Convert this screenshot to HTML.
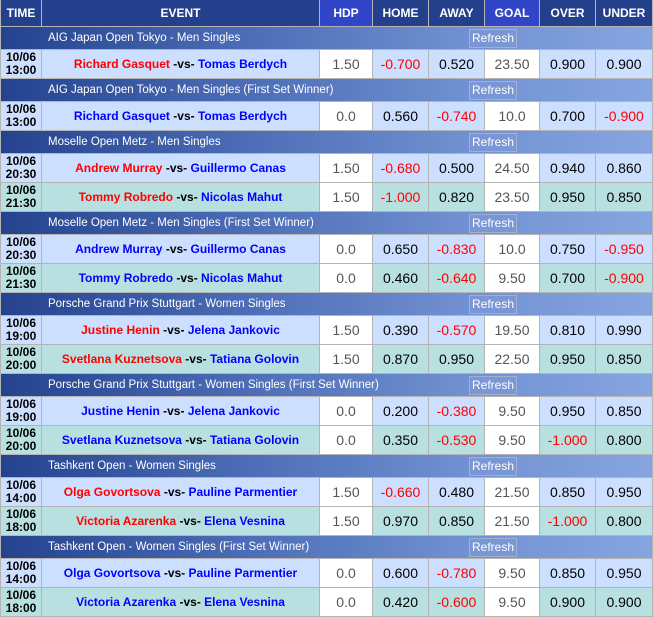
<!DOCTYPE html>
<html><head><meta charset="utf-8"><style>
body{margin:0;background:#fff;}
table{border-collapse:separate;border-spacing:0;table-layout:fixed;width:653px;font-family:"Liberation Sans",sans-serif;border-left:1px solid #b4b4b4;}
td{border-right:1px solid #b4b4b4;border-bottom:1px solid #b4b4b4;padding:0;text-align:center;overflow:hidden;white-space:nowrap;}
tr.h td{height:26px;background:#24408c;color:#fff;font-weight:bold;font-size:12px;}
tr.h td.b{background:#3145c9;}
tr.s td{height:22px;background:linear-gradient(to right,#24428e,#4f6fb8 40%,#6f8fd0 70%,#86a5e0);color:#fff;font-size:11.5px;text-align:left;position:relative;}
tr.s span.t{position:absolute;left:47px;top:5px;}
tr.s span.r{position:absolute;left:468px;top:2px;width:46px;height:17px;border:1px solid #a0b0d0;background:#7a96d4;color:#fff;font-size:12px;text-align:center;line-height:17px;}
tr.d td{height:28px;font-size:14px;}
tr.d td.tm{font-weight:bold;font-size:12px;line-height:13px;}
tr.d td.ev{font-weight:bold;font-size:12px;letter-spacing:0;}
tr.d td.w{background:#fff;color:#555;}
tr.a td{background:#cddfff;}
tr.c td{background:#b9e0e0;}
tr.d td.w{background:#fff;}
.R{color:#f00}.B{color:#00f}.K{color:#000}
</style></head><body>
<table>
<colgroup><col style="width:41px"><col style="width:278px"><col style="width:53px"><col style="width:56px"><col style="width:56px"><col style="width:55px"><col style="width:56px"><col style="width:57px"></colgroup>
<tr class="h"><td>TIME</td><td>EVENT</td><td class="b">HDP</td><td>HOME</td><td>AWAY</td><td class="b">GOAL</td><td>OVER</td><td>UNDER</td></tr>

<tr class="s"><td colspan="8"><span class="t">AIG Japan Open Tokyo - Men Singles</span><span class="r">Refresh</span></td></tr>
<tr class="d a"><td class="tm">10/06<br>13:00</td><td class="ev"><span class="R">Richard Gasquet</span> -vs- <span class="B">Tomas Berdych</span></td><td class="w">1.50</td><td class="R">-0.700</td><td>0.520</td><td class="w">23.50</td><td>0.900</td><td>0.900</td></tr>

<tr class="s"><td colspan="8"><span class="t">AIG Japan Open Tokyo - Men Singles (First Set Winner)</span><span class="r">Refresh</span></td></tr>
<tr class="d a"><td class="tm">10/06<br>13:00</td><td class="ev"><span class="B">Richard Gasquet</span> -vs- <span class="B">Tomas Berdych</span></td><td class="w">0.0</td><td>0.560</td><td class="R">-0.740</td><td class="w">10.0</td><td>0.700</td><td class="R">-0.900</td></tr>

<tr class="s"><td colspan="8"><span class="t">Moselle Open Metz - Men Singles</span><span class="r">Refresh</span></td></tr>
<tr class="d a"><td class="tm">10/06<br>20:30</td><td class="ev"><span class="R">Andrew Murray</span> -vs- <span class="B">Guillermo Canas</span></td><td class="w">1.50</td><td class="R">-0.680</td><td>0.500</td><td class="w">24.50</td><td>0.940</td><td>0.860</td></tr>
<tr class="d c"><td class="tm">10/06<br>21:30</td><td class="ev"><span class="R">Tommy Robredo</span> -vs- <span class="B">Nicolas Mahut</span></td><td class="w">1.50</td><td class="R">-1.000</td><td>0.820</td><td class="w">23.50</td><td>0.950</td><td>0.850</td></tr>

<tr class="s"><td colspan="8"><span class="t">Moselle Open Metz - Men Singles (First Set Winner)</span><span class="r">Refresh</span></td></tr>
<tr class="d a"><td class="tm">10/06<br>20:30</td><td class="ev"><span class="B">Andrew Murray</span> -vs- <span class="B">Guillermo Canas</span></td><td class="w">0.0</td><td>0.650</td><td class="R">-0.830</td><td class="w">10.0</td><td>0.750</td><td class="R">-0.950</td></tr>
<tr class="d c"><td class="tm">10/06<br>21:30</td><td class="ev"><span class="B">Tommy Robredo</span> -vs- <span class="B">Nicolas Mahut</span></td><td class="w">0.0</td><td>0.460</td><td class="R">-0.640</td><td class="w">9.50</td><td>0.700</td><td class="R">-0.900</td></tr>

<tr class="s"><td colspan="8"><span class="t">Porsche Grand Prix Stuttgart - Women Singles</span><span class="r">Refresh</span></td></tr>
<tr class="d a"><td class="tm">10/06<br>19:00</td><td class="ev"><span class="R">Justine Henin</span> -vs- <span class="B">Jelena Jankovic</span></td><td class="w">1.50</td><td>0.390</td><td class="R">-0.570</td><td class="w">19.50</td><td>0.810</td><td>0.990</td></tr>
<tr class="d c"><td class="tm">10/06<br>20:00</td><td class="ev"><span class="R">Svetlana Kuznetsova</span> -vs- <span class="B">Tatiana Golovin</span></td><td class="w">1.50</td><td>0.870</td><td>0.950</td><td class="w">22.50</td><td>0.950</td><td>0.850</td></tr>

<tr class="s"><td colspan="8"><span class="t">Porsche Grand Prix Stuttgart - Women Singles (First Set Winner)</span><span class="r">Refresh</span></td></tr>
<tr class="d a"><td class="tm">10/06<br>19:00</td><td class="ev"><span class="B">Justine Henin</span> -vs- <span class="B">Jelena Jankovic</span></td><td class="w">0.0</td><td>0.200</td><td class="R">-0.380</td><td class="w">9.50</td><td>0.950</td><td>0.850</td></tr>
<tr class="d c"><td class="tm">10/06<br>20:00</td><td class="ev"><span class="B">Svetlana Kuznetsova</span> -vs- <span class="B">Tatiana Golovin</span></td><td class="w">0.0</td><td>0.350</td><td class="R">-0.530</td><td class="w">9.50</td><td class="R">-1.000</td><td>0.800</td></tr>

<tr class="s"><td colspan="8"><span class="t">Tashkent Open - Women Singles</span><span class="r">Refresh</span></td></tr>
<tr class="d a"><td class="tm">10/06<br>14:00</td><td class="ev"><span class="R">Olga Govortsova</span> -vs- <span class="B">Pauline Parmentier</span></td><td class="w">1.50</td><td class="R">-0.660</td><td>0.480</td><td class="w">21.50</td><td>0.850</td><td>0.950</td></tr>
<tr class="d c"><td class="tm">10/06<br>18:00</td><td class="ev"><span class="R">Victoria Azarenka</span> -vs- <span class="B">Elena Vesnina</span></td><td class="w">1.50</td><td>0.970</td><td>0.850</td><td class="w">21.50</td><td class="R">-1.000</td><td>0.800</td></tr>

<tr class="s"><td colspan="8"><span class="t">Tashkent Open - Women Singles (First Set Winner)</span><span class="r">Refresh</span></td></tr>
<tr class="d a"><td class="tm">10/06<br>14:00</td><td class="ev"><span class="B">Olga Govortsova</span> -vs- <span class="B">Pauline Parmentier</span></td><td class="w">0.0</td><td>0.600</td><td class="R">-0.780</td><td class="w">9.50</td><td>0.850</td><td>0.950</td></tr>
<tr class="d c"><td class="tm">10/06<br>18:00</td><td class="ev"><span class="B">Victoria Azarenka</span> -vs- <span class="B">Elena Vesnina</span></td><td class="w">0.0</td><td>0.420</td><td class="R">-0.600</td><td class="w">9.50</td><td>0.900</td><td>0.900</td></tr>
</table>
</body></html>
